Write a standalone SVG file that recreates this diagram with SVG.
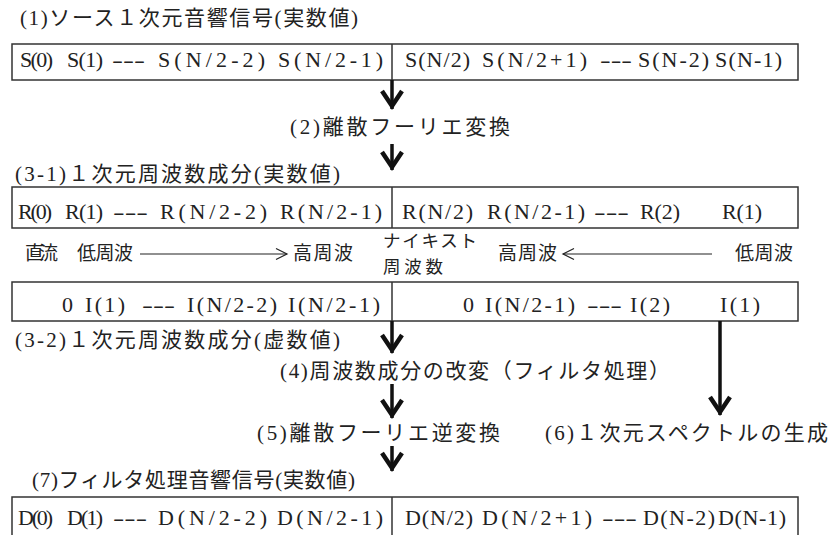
<svg xmlns="http://www.w3.org/2000/svg" width="835" height="535" viewBox="0 0 835 535">
<style>
.t{font-family:"Liberation Serif","Noto Sans CJK JP",serif;font-size:22px;fill:#222}
.h{font-family:"Liberation Serif","Noto Sans CJK JP",serif;font-size:21px;fill:#222}
.l{font-family:"Noto Sans CJK JP",sans-serif;font-size:19px;fill:#222}
.ny{font-family:"Noto Sans CJK JP",sans-serif;font-size:17.5px;fill:#222}
.box{fill:#fff;stroke:#333;stroke-width:1.5}
.div{stroke:#333;stroke-width:1.5}
.arr{stroke:#111;stroke-width:3.5;fill:none;marker-end:url(#ah)}
.thin{stroke:#222;stroke-width:1.2;fill:none}
</style>
<defs>
<marker id="ah" markerUnits="userSpaceOnUse" viewBox="-22 -13 26 26" markerWidth="26" markerHeight="26" refX="-1" refY="0" orient="auto">
<path d="M-19,-10 L-4,0 L-19,10" fill="none" stroke="#111" stroke-width="4.5" stroke-linejoin="miter" stroke-miterlimit="10"/>
</marker>
</defs>

<text class="h" x="20" y="25" textLength="338">(1)ソース１次元音響信号(実数値)</text>

<g id="box-source">
<rect class="box" x="12" y="44" width="786" height="36"/>
<line class="div" x1="392" y1="44" x2="392" y2="80"/>
<g class="t">
<text x="20" y="67" textLength="33">S(0)</text>
<text x="67" y="67" textLength="36">S(1)</text>
<text x="112" y="67" textLength="33" lengthAdjust="spacingAndGlyphs">---</text>
<text x="158" y="67" textLength="107">S(N/2-2)</text>
<text x="278" y="67" textLength="105">S(N/2-1)</text>
<text x="405" y="67" textLength="65">S(N/2)</text>
<text x="482" y="67" textLength="105">S(N/2+1)</text>
<text x="600" y="67" textLength="32" lengthAdjust="spacingAndGlyphs">---</text>
<text x="638" y="67" textLength="71">S(N-2)</text>
<text x="715" y="67" textLength="67">S(N-1)</text>
</g>
</g>

<text class="h" x="290" y="134" textLength="220">(2)離散フーリエ変換</text>
<text class="h" x="15" y="181" textLength="325">(3-1)１次元周波数成分(実数値)</text>

<g id="box-real">
<rect class="box" x="12" y="187" width="786" height="41"/>
<line class="div" x1="392" y1="187" x2="392" y2="228"/>
<g class="t">
<text x="18" y="219" textLength="34">R(0)</text>
<text x="65" y="219" textLength="38">R(1)</text>
<text x="113" y="219" textLength="35" lengthAdjust="spacingAndGlyphs">---</text>
<text x="160" y="219" textLength="107">R(N/2-2)</text>
<text x="280" y="219" textLength="102">R(N/2-1)</text>
<text x="402" y="219" textLength="71">R(N/2)</text>
<text x="487" y="219" textLength="98">R(N/2-1)</text>
<text x="594" y="219" textLength="35" lengthAdjust="spacingAndGlyphs">---</text>
<text x="640" y="219" textLength="40">R(2)</text>
<text x="722" y="219" textLength="40">R(1)</text>
</g>
</g>

<g id="freq-labels">
<text class="l" x="25" y="260" textLength="33">直流</text>
<text class="l" x="77" y="260" textLength="56">低周波</text>
<line class="thin" x1="140" y1="254" x2="287" y2="254"/>
<polyline class="thin" points="276,248.5 287,254 276,259.5"/>
<text class="l" x="293" y="260" textLength="60">高周波</text>
<text class="ny" x="383" y="247" textLength="94">ナイキスト</text>
<text class="ny" x="383" y="273" textLength="60">周波数</text>
<text class="l" x="498" y="260" textLength="59">高周波</text>
<line class="thin" x1="563" y1="254" x2="712" y2="254"/>
<polyline class="thin" points="574,248.5 563,254 574,259.5"/>
<text class="l" x="735" y="260" textLength="58">低周波</text>
</g>

<g id="box-imag">
<rect class="box" x="12" y="282" width="786" height="39"/>
<line class="div" x1="392" y1="282" x2="392" y2="321"/>
<g class="t">
<text x="62" y="312">0</text>
<text x="85" y="312" textLength="40">I(1)</text>
<text x="142" y="312" textLength="33" lengthAdjust="spacingAndGlyphs">---</text>
<text x="187" y="312" textLength="90">I(N/2-2)</text>
<text x="288" y="312" textLength="92">I(N/2-1)</text>
<text x="463" y="312">0</text>
<text x="485" y="312" textLength="90">I(N/2-1)</text>
<text x="587" y="312" textLength="35" lengthAdjust="spacingAndGlyphs">---</text>
<text x="630" y="312" textLength="40">I(2)</text>
<text x="720" y="312" textLength="40">I(1)</text>
</g>
</g>

<text class="h" x="15" y="347" textLength="325">(3-2)１次元周波数成分(虚数値)</text>
<text class="h" x="280" y="378" textLength="390">(4)周波数成分の改変（フィルタ処理）</text>
<text class="h" x="257" y="440" textLength="243">(5)離散フーリエ逆変換</text>
<text class="h" x="545" y="440" textLength="283">(6)１次元スペクトルの生成</text>
<text class="h" x="32" y="487" textLength="323">(7)フィルタ処理音響信号(実数値)</text>

<g id="box-filtered">
<rect class="box" x="12" y="497" width="786" height="50"/>
<line class="div" x1="392" y1="497" x2="392" y2="535"/>
<g class="t">
<text x="18" y="525" textLength="35">D(0)</text>
<text x="67" y="525" textLength="36">D(1)</text>
<text x="113" y="525" textLength="34" lengthAdjust="spacingAndGlyphs">---</text>
<text x="158" y="525" textLength="109">D(N/2-2)</text>
<text x="277" y="525" textLength="106">D(N/2-1)</text>
<text x="405" y="525" textLength="68">D(N/2)</text>
<text x="482" y="525" textLength="110">D(N/2+1)</text>
<text x="602" y="525" textLength="35" lengthAdjust="spacingAndGlyphs">---</text>
<text x="643" y="525" textLength="72">D(N-2)</text>
<text x="718" y="525" textLength="68">D(N-1)</text>
</g>
</g>

<g id="connectors">
<line class="arr" x1="392" y1="80" x2="392" y2="109"/>
<line class="arr" x1="392" y1="144" x2="392" y2="170"/>
<line class="arr" x1="392" y1="321" x2="392" y2="353"/>
<line class="arr" x1="392" y1="384" x2="392" y2="418"/>
<line class="arr" x1="392" y1="446" x2="392" y2="471"/>
<line class="arr" x1="720" y1="321" x2="720" y2="415"/>
</g>
</svg>
